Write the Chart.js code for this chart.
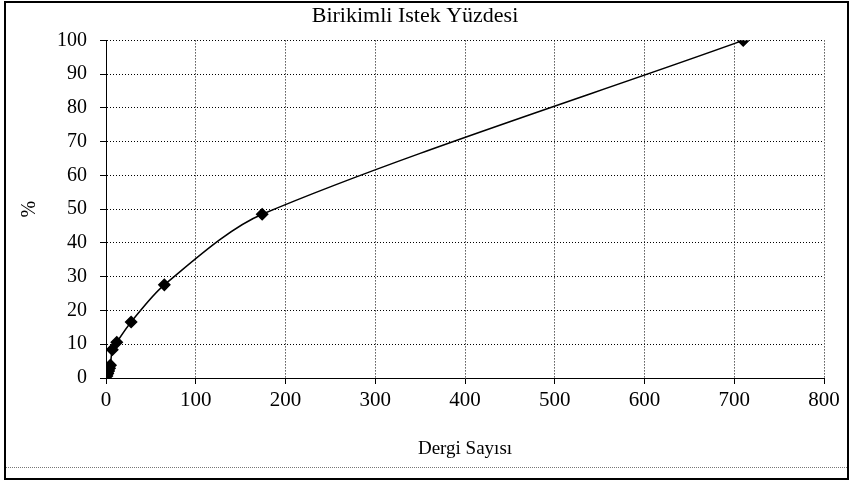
<!DOCTYPE html>
<html lang="tr">
<head>
    <meta charset="UTF-8">
    <title>Birikimli Istek Yüzdesi</title>
    <script src="https://cdn.jsdelivr.net/npm/chart.js"></script>
    <style>
        body { margin: 0; background: #fff; }
        #frame {
            position: absolute; left: 4px; top: 1px;
            width: 841px; height: 475px;
            border: 2px solid #000;
        }
        #bottom-line {
            position: absolute; left: 0; right: 0; top: 464px;
            border-top: 1px dotted #777;
        }
    </style>
</head>
<body>
    <div id="frame">
        <canvas id="chart" width="841" height="475"></canvas>
        <div id="bottom-line"></div>
    </div>

    <script>
        // values
        let journals = [1, 2, 3, 4, 5, 7, 12, 28, 65, 174, 710];
        let percent = [0.6, 1.3, 2.1, 2.9, 3.8, 8.4, 10.6, 16.6, 27.6, 48.5, 100];
        let xTicks = [0, 100, 200, 300, 400, 500, 600, 700, 800];
        let yTicks = [0, 10, 20, 30, 40, 50, 60, 70, 80, 90, 100];

        let points = journals.map((x, i) => ({ x: x, y: percent[i] }));

        let serif = "'Liberation Serif', 'Times New Roman', serif";

        new Chart(document.getElementById("chart"), {
            type: "scatter",
            data: {
                datasets: [{
                    data: points,
                    showLine: true,
                    borderColor: "#000",
                    borderWidth: 1.5,
                    backgroundColor: "#000",
                    pointStyle: "rectRot",
                    pointRadius: 5.5,
                    tension: 0.3
                }]
            },
            options: {
                responsive: false,
                animation: false,
                layout: { padding: { left: 0, right: 23, top: 0, bottom: 0 } },
                plugins: {
                    legend: { display: false },
                    tooltip: { enabled: false },
                    title: {
                        display: true,
                        text: "Birikimli Istek Yüzdesi",
                        color: "#000",
                        font: { family: serif, size: 22, weight: "normal" },
                        padding: { top: 0, bottom: 11 }
                    }
                },
                scales: {
                    x: {
                        type: "linear",
                        min: 0, max: 800,
                        afterBuildTicks: s => { s.ticks = xTicks.map(v => ({ value: v })); },
                        afterFit: s => { s.height = 100; },
                        grid: { color: "#000", lineWidth: 1, tickLength: 6 },
                        border: { display: true, color: "#000", dash: [1, 2] },
                        ticks: { color: "#000", font: { family: serif, size: 21 }, padding: 4 },
                        title: {
                            display: true, text: "Dergi Sayısı", color: "#000",
                            font: { family: serif, size: 19 }, padding: { top: 10, bottom: 18 }
                        }
                    },
                    y: {
                        min: 0, max: 100,
                        afterBuildTicks: s => { s.ticks = yTicks.map(v => ({ value: v })); },
                        afterFit: s => { s.width = 100; },
                        grid: { color: "#000", lineWidth: 1, tickLength: 6 },
                        border: { display: true, color: "#000", dash: [1, 2] },
                        ticks: { color: "#000", font: { family: serif, size: 20 }, padding: 13 },
                        title: {
                            display: true, text: "%", color: "#000",
                            font: { family: serif, size: 20 }, padding: { top: 12, bottom: 10 }
                        }
                    }
                }
            }
        });
    </script>
</body>
</html>
